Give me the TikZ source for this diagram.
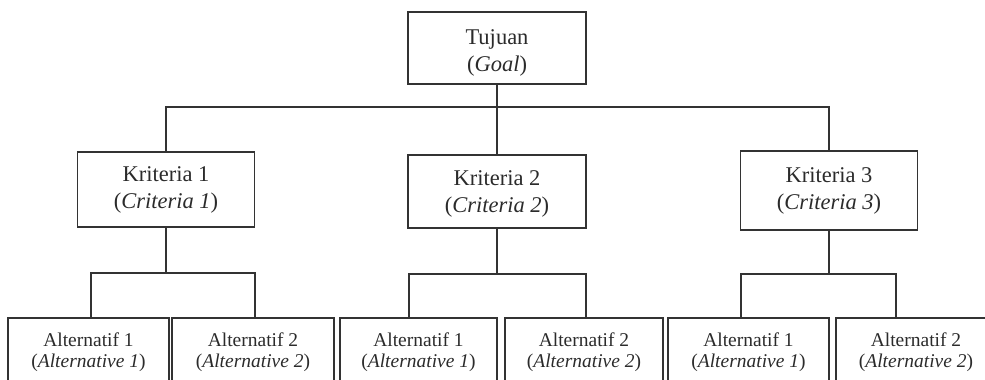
\documentclass[tikz,border=0pt]{standalone}
\usepackage{fontspec}
\setmainfont{Liberation Serif}
\definecolor{linec}{HTML}{333333}
\definecolor{textc}{HTML}{2B2B2B}
\tikzset{
  box/.style={draw=linec, line width=1.9pt, rectangle, inner sep=0pt},
  txt/.style={align=center, inner sep=0pt, text=textc},
  big/.style={font=\fontsize{22.5}{26.5}\selectfont},
  small/.style={font=\fontsize{19.5}{20.5}\selectfont},
  conn/.style={draw=linec, line width=1.9pt}
}
\begin{document}
\begin{tikzpicture}[x=1pt,y=-1pt]
\useasboundingbox (0,0) rectangle (985,380);
\clip (0,0) rectangle (985,380);
% goal
\node[box,minimum width=178pt,minimum height=72pt] (T) at (497,48) {};
\node[txt,big] (Tt) at (497,53) {Tujuan\\(\textit{Goal})};
% criteria
\node[box,minimum width=177pt,minimum height=75pt] (K1) at (166,189.5) {};
\node[txt,big] (K1t) at (166,190) {Kriteria 1\\(\textit{Criteria 1})};
\node[box,minimum width=178pt,minimum height=73pt] (K2) at (497,191.5) {};
\node[txt,big] (K2t) at (497,194) {Kriteria 2\\(\textit{Criteria 2})};
\node[box,minimum width=177pt,minimum height=79pt] (K3) at (829,190.5) {};
\node[txt,big] (K3t) at (829,191) {Kriteria 3\\(\textit{Criteria 3})};
% alternatives
\node[box,minimum width=161pt,minimum height=80pt] (A11) at (88.5,358) {};
\node[txt,small] (A11t) at (88.5,352) {Alternatif 1\\(\textit{Alternative 1})};
\node[box,minimum width=162pt,minimum height=80pt] (A12) at (253,358) {};
\node[txt,small] (A12t) at (253,352) {Alternatif 2\\(\textit{Alternative 2})};
\node[box,minimum width=157pt,minimum height=80pt] (A21) at (418.5,358) {};
\node[txt,small] (A21t) at (418.5,352) {Alternatif 1\\(\textit{Alternative 1})};
\node[box,minimum width=158pt,minimum height=80pt] (A22) at (584,358) {};
\node[txt,small] (A22t) at (584,352) {Alternatif 2\\(\textit{Alternative 2})};
\node[box,minimum width=161pt,minimum height=80pt] (A31) at (748.5,358) {};
\node[txt,small] (A31t) at (748.5,352) {Alternatif 1\\(\textit{Alternative 1})};
\node[box,minimum width=160pt,minimum height=80pt] (A32) at (916,358) {};
\node[txt,small] (A32t) at (916,352) {Alternatif 2\\(\textit{Alternative 2})};
% top connectors
\coordinate (h0) at (497,107);
\draw[conn] (T.south) -- (K2.north);
\draw[conn] (K1.north) -- (K1.north |- h0) -- (K3.north |- h0) -- (K3.north);
% group 1
\coordinate (g1) at (166,273);
\coordinate (g1a) at (91,273);
\coordinate (g1b) at (255,273);
\draw[conn] (K1.south) -- (g1);
\draw[conn] (A11.north -| g1a) -- (g1a) -- (g1b) -- (A12.north -| g1b);
% group 2
\coordinate (g2) at (497,274);
\coordinate (g2a) at (409,274);
\coordinate (g2b) at (586,274);
\draw[conn] (K2.south) -- (g2);
\draw[conn] (A21.north -| g2a) -- (g2a) -- (g2b) -- (A22.north -| g2b);
% group 3
\coordinate (g3) at (829,274);
\coordinate (g3a) at (741,274);
\coordinate (g3b) at (896,274);
\draw[conn] (K3.south) -- (g3);
\draw[conn] (A31.north -| g3a) -- (g3a) -- (g3b) -- (A32.north -| g3b);
\end{tikzpicture}
\end{document}
